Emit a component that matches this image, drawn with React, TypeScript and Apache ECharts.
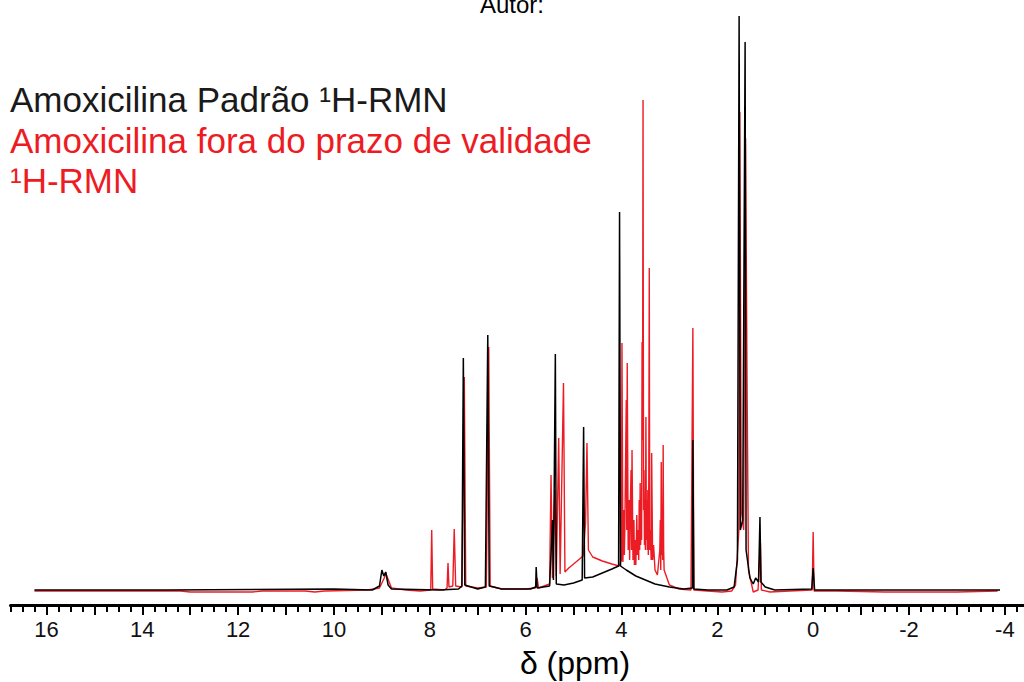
import React, { useEffect, useRef } from "react";
import * as echarts from "echarts";

// ppm, intensity (arbitrary units)
const standardSpectrum: [number, number][] = [
  [16.25, 0], [15.0, 0], [13.5, 0], [10.0, 1], [9.2, 0], [9.05, 4], [9.0, 20], [8.96, 14], [8.92, 18], [8.87, 5], [8.8, 1],
  [7.8, 0], [7.4, 1], [7.33, 4], [7.3, 232], [7.27, 5], [7.0, 1], [6.84, 3], [6.79, 255], [6.76, 4], [6.5, 1],
  [5.9, 1], [5.79, 3], [5.78, 23], [5.76, 2], [5.5, 4], [5.44, 70], [5.42, 10], [5.38, 236], [5.36, 6], [5.2, 5], [5.0, 7],
  [4.82, 10], [4.79, 163], [4.77, 12], [4.6, 13], [4.4, 17], [4.2, 21], [4.06, 24], [4.04, 378], [4.02, 24],
  [3.9, 20], [3.7, 14], [3.5, 10], [3.3, 6], [3.0, 3], [2.7, 1], [2.52, 2], [2.51, 150], [2.49, 1], [2.2, 0],
  [1.8, 0], [1.65, 3], [1.58, 30], [1.545, 574], [1.52, 60], [1.47, 70], [1.42, 548], [1.4, 40], [1.32, 12],
  [1.25, 6], [1.2, 12], [1.14, 8], [1.11, 73], [1.09, 8], [1.0, 3], [0.8, 0], [0.03, 1], [0.0, 22], [-0.03, 0],
  [-1.0, 0], [-3.9, 0],
];

const expiredSpectrum: [number, number][] = [
  [16.25, -1], [14.5, -1], [13.2, -1], [13.0, -2], [11.7, -2], [11.5, -1], [10.6, -1], [10.4, -2], [10.2, -1],
  [9.3, 0], [9.05, 2], [8.95, 12], [8.92, 17], [8.88, 12], [8.8, 2], [8.5, 0], [8.2, -1], [7.98, 0], [7.96, 60],
  [7.94, 1], [7.7, 0], [7.64, 2], [7.62, 27], [7.6, 3], [7.52, 4], [7.49, 61], [7.46, 4], [7.33, 3], [7.28, 213],
  [7.25, 4], [7.0, 2], [6.82, 3], [6.77, 243], [6.74, 4], [6.5, 1], [6.0, 1], [5.8, 2], [5.76, 12], [5.73, 2],
  [5.5, 6], [5.47, 115], [5.44, 12], [5.39, 100], [5.36, 14], [5.31, 152], [5.28, 16], [5.21, 207], [5.18, 18],
  [5.1, 22], [4.95, 28], [4.8, 34], [4.75, 67], [4.72, 147], [4.69, 40], [4.6, 33], [4.4, 29], [4.2, 26],
  [4.05, 24], [4.0, 30], [3.99, 247], [3.97, 28], [3.95, 80], [3.94, 35], [3.93, 60], [3.9, 190], [3.89, 60],
  [3.88, 227], [3.86, 40], [3.84, 90], [3.83, 30], [3.82, 70], [3.8, 120], [3.79, 40], [3.78, 140], [3.76, 30],
  [3.74, 70], [3.73, 25], [3.72, 50], [3.7, 25], [3.68, 75], [3.67, 35], [3.66, 60], [3.64, 30], [3.63, 90],
  [3.62, 40], [3.61, 107], [3.6, 45], [3.59, 80], [3.58, 50], [3.57, 248], [3.56, 150], [3.55, 490], [3.54, 80],
  [3.53, 120], [3.52, 45], [3.51, 60], [3.5, 40], [3.49, 173], [3.48, 50], [3.47, 90], [3.46, 40], [3.45, 100],
  [3.44, 35], [3.43, 110], [3.42, 322], [3.41, 40], [3.4, 60], [3.38, 30], [3.37, 137], [3.35, 30], [3.33, 45],
  [3.3, 20], [3.25, 15], [3.2, 40], [3.19, 70], [3.18, 20], [3.17, 128], [3.16, 35], [3.15, 60], [3.14, 30],
  [3.13, 145], [3.12, 40], [3.11, 20], [3.0, 5], [2.8, 1], [2.55, 0], [2.51, 262], [2.49, 0], [2.2, -1], [1.9, -2],
  [1.7, -1], [1.62, 5], [1.55, 60], [1.53, 478], [1.5, 80], [1.45, 60], [1.41, 452], [1.38, 210], [1.35, 20],
  [1.25, -2], [1.15, 0], [1.1, 47], [1.08, 0], [0.9, -2], [0.5, -1], [0.02, 0], [0.0, 58], [-0.02, -1],
  [-0.5, -1], [-1.5, -2], [-3.0, -2], [-3.85, -1],
];

const labelTicks = [16, 14, 12, 10, 8, 6, 4, 2, 0, -2, -4];
const majorTicks = [16, 15, 14, 13, 12, 11, 10, 9, 8, 7, 6, 5, 4, 3, 2, 1, 0, -1, -2, -3, -4];

const legendLines = [
  { text: "Amoxicilina Padrão ¹H-RMN", color: "#1a1a1a" },
  { text: "Amoxicilina fora do prazo de validade", color: "#ed1c24" },
  { text: "¹H-RMN", color: "#ed1c24" },
];

const X_MIN = -4.4;
const X_MAX = 16.75;

export default function App() {
  const ref = useRef<HTMLDivElement>(null);
  useEffect(() => {
    if (!ref.current) return;
    const chart = echarts.init(ref.current, null, { renderer: "svg" });
    const minorTicks: number[] = [];
    for (let i = -17; i <= 67; i++) {
      const v = i * 0.25;
      if (v >= X_MIN && v <= X_MAX && !Number.isInteger(v)) minorTicks.push(v);
    }
    const font = "Liberation Sans, Arial, sans-serif";
    const baseX = {
      type: "value",
      min: X_MIN,
      max: X_MAX,
      inverse: true,
      position: "bottom",
      splitLine: { show: false },
    };
    chart.setOption({
      animation: false,
      grid: { left: 10.5, right: 0, top: 16, bottom: 77 },
      xAxis: [
        {
          ...baseX,
          axisLine: { show: true, onZero: false, lineStyle: { color: "#000", width: 3 } },
          axisTick: { show: true, customValues: majorTicks, length: 10, lineStyle: { color: "#000", width: 2 } },
          axisLabel: {
            show: true,
            customValues: labelTicks,
            fontSize: 22,
            color: "#111",
            fontFamily: font,
            margin: 13,
            formatter: (v: number) => String(v),
          },
        },
        {
          ...baseX,
          axisLine: { show: false, onZero: false },
          axisTick: { show: true, customValues: minorTicks, length: 7, lineStyle: { color: "#000", width: 2 } },
          axisLabel: { show: false },
        },
      ],
      yAxis: { type: "value", min: -15, max: 574, show: false },
      series: [
        {
          type: "line",
          name: "Amoxicilina fora do prazo de validade",
          data: expiredSpectrum,
          showSymbol: false,
          lineStyle: { color: "#ed1c24", width: 1.4 },
          z: 2,
        },
        {
          type: "line",
          name: "Amoxicilina Padrão",
          data: standardSpectrum,
          showSymbol: false,
          lineStyle: { color: "#000", width: 1.5 },
          z: 3,
        },
      ],
      graphic: [
        {
          type: "text",
          left: "center",
          top: -8,
          style: { text: "Autor:", font: `24px ${font}`, fill: "#000" },
        },
        ...legendLines.map((l, i) => ({
          type: "text",
          x: 10,
          y: 82 + i * 40.5,
          style: { text: l.text, font: `35px ${font}`, fill: l.color },
        })),
        {
          type: "text",
          x: 575,
          y: 647,
          style: { text: "δ (ppm)", font: `32px ${font}`, fill: "#000", align: "center" },
        },
      ],
    });
    return () => chart.dispose();
  }, []);
  return <div ref={ref} style={{ position: "absolute", left: 0, top: 0, width: 1024, height: 682 }} />;
}
